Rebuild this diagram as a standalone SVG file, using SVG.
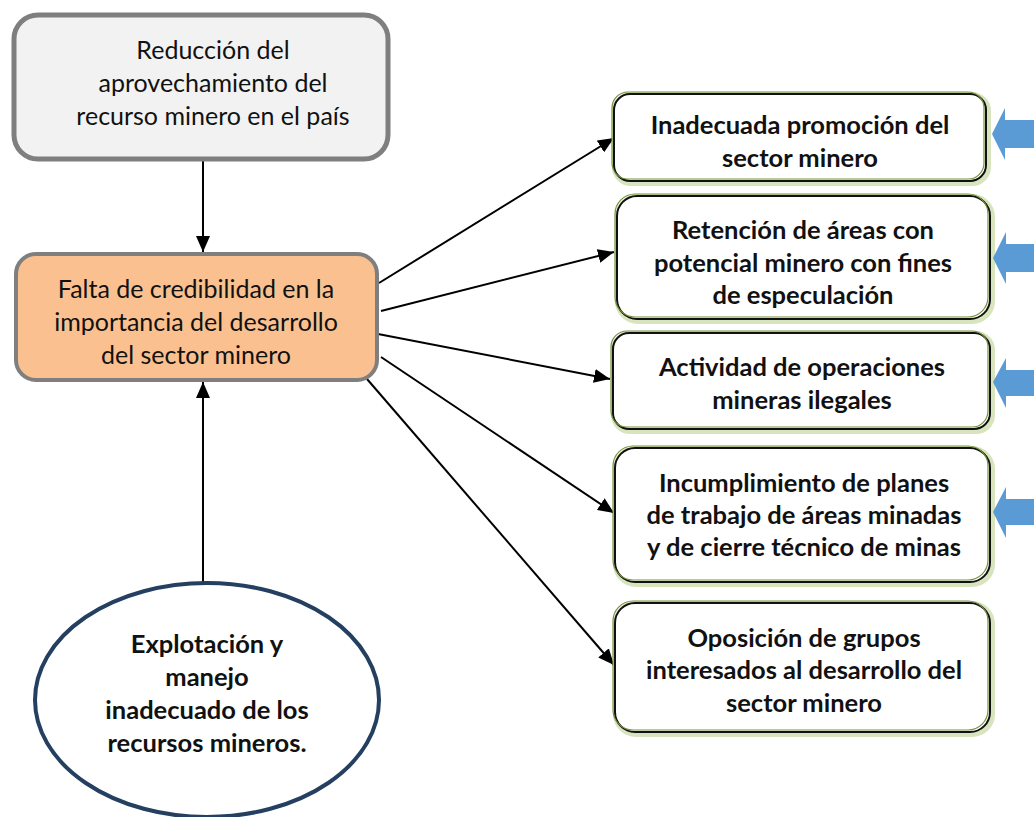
<svg xmlns="http://www.w3.org/2000/svg" width="1034" height="817" viewBox="0 0 1034 817">
<style>
.t{font-family:Lato,"Open Sans","Liberation Sans",sans-serif;font-size:25px;fill:#111;text-anchor:middle}
.b{font-weight:bold;font-size:25.5px}
.g1{fill:none;stroke:#d7e4bd;stroke-width:6}
.g2{fill:#fff;stroke:#111;stroke-width:2}
.g3{fill:none;stroke:#76923c;stroke-width:1.2}
.con{stroke:#000;stroke-width:2;fill:none;marker-end:url(#ah)}
.blue{fill:#5b9bd5}
</style>
<defs>
<marker id="ah" markerUnits="userSpaceOnUse" markerWidth="18" markerHeight="14" refX="16" refY="7" orient="auto">
<path d="M0,0 L16,7 L0,14 Z" fill="#000"/>
</marker>
</defs>
<rect width="1034" height="817" fill="#fff"/>

<g id="connectors">
<line class="con" x1="203" y1="161" x2="203" y2="252"/>
<line class="con" x1="203" y1="582" x2="203" y2="382"/>
<line class="con" x1="379" y1="283" x2="614" y2="138"/>
<line class="con" x1="381" y1="311" x2="614" y2="252"/>
<line class="con" x1="378" y1="334" x2="610" y2="379"/>
<line class="con" x1="381" y1="357" x2="614" y2="513"/>
<line class="con" x1="367" y1="379" x2="614" y2="665"/>
</g>

<g id="n_top">
<rect x="14" y="15" width="374" height="144" rx="24" fill="#f2f2f2" stroke="#7f7f7f" stroke-width="5"/>
<text class="t" x="213" y="59">Reducción del</text>
<text class="t" x="213" y="92">aprovechamiento del</text>
<text class="t" x="213" y="125">recurso minero en el país</text>
</g>

<g id="n_center">
<rect x="16" y="254" width="361" height="126" rx="20" fill="#fac090" stroke="#7f7f7f" stroke-width="4"/>
<text class="t" x="196" y="298">Falta de credibilidad en la</text>
<text class="t" x="196" y="331">importancia del desarrollo</text>
<text class="t" x="196" y="364">del sector minero</text>
</g>

<g id="n_ellipse">
<ellipse cx="207" cy="700" rx="172" ry="117" fill="#fff" stroke="#243f60" stroke-width="4"/>
<text class="t b" x="207" y="653">Explotación y</text>
<text class="t b" x="207" y="686">manejo</text>
<text class="t b" x="207" y="719">inadecuado de los</text>
<text class="t b" x="207" y="752">recursos mineros.</text>
</g>

<g id="n_r1">
<rect class="g1" x="615" y="95" width="373" height="88" rx="16"/>
<rect class="g2" x="614" y="94" width="372" height="87" rx="16"/>
<rect class="g3" x="612" y="92" width="372" height="87" rx="16"/>
<text class="t b" x="800" y="134">Inadecuada promoción del</text>
<text class="t b" x="800" y="167">sector minero</text>
</g>
<g id="n_r2">
<rect class="g1" x="618" y="197" width="374" height="124" rx="20"/>
<rect class="g2" x="617" y="196" width="373" height="123" rx="20"/>
<rect class="g3" x="615" y="194" width="373" height="123" rx="20"/>
<text class="t b" x="803" y="239">Retención de áreas con</text>
<text class="t b" x="803" y="272">potencial minero con fines</text>
<text class="t b" x="803" y="304">de especulación</text>
</g>
<g id="n_r3">
<rect class="g1" x="614" y="334" width="378" height="97" rx="16"/>
<rect class="g2" x="613" y="333" width="377" height="96" rx="16"/>
<rect class="g3" x="611" y="331" width="377" height="96" rx="16"/>
<text class="t b" x="802" y="376">Actividad de operaciones</text>
<text class="t b" x="802" y="409">mineras ilegales</text>
</g>
<g id="n_r4">
<rect class="g1" x="616" y="449" width="376" height="135" rx="20"/>
<rect class="g2" x="615" y="448" width="375" height="134" rx="20"/>
<rect class="g3" x="613" y="446" width="375" height="134" rx="20"/>
<text class="t b" x="804" y="492">Incumplimiento de planes</text>
<text class="t b" x="804" y="524">de trabajo de áreas minadas</text>
<text class="t b" x="804" y="556">y de cierre técnico de minas</text>
</g>
<g id="n_r5">
<rect class="g1" x="616" y="604" width="376" height="130" rx="20"/>
<rect class="g2" x="615" y="603" width="375" height="129" rx="20"/>
<rect class="g3" x="613" y="601" width="375" height="129" rx="20"/>
<text class="t b" x="804" y="647">Oposición de grupos</text>
<text class="t b" x="804" y="679">interesados al desarrollo del</text>
<text class="t b" x="804" y="712">sector minero</text>
</g>

<g id="blue_arrows">
<path class="blue" d="M992,134 L1005,108 L1005,120 L1034,120 L1034,148 L1005,148 L1005,160 Z"/>
<path class="blue" d="M993,258 L1006,232 L1006,244 L1034,244 L1034,272 L1006,272 L1006,284 Z"/>
<path class="blue" d="M993,382 L1006,358 L1006,370 L1034,370 L1034,396 L1006,396 L1006,408 Z"/>
<path class="blue" d="M993,512 L1006,487 L1006,499 L1034,499 L1034,525 L1006,525 L1006,538 Z"/>
</g>
</svg>
